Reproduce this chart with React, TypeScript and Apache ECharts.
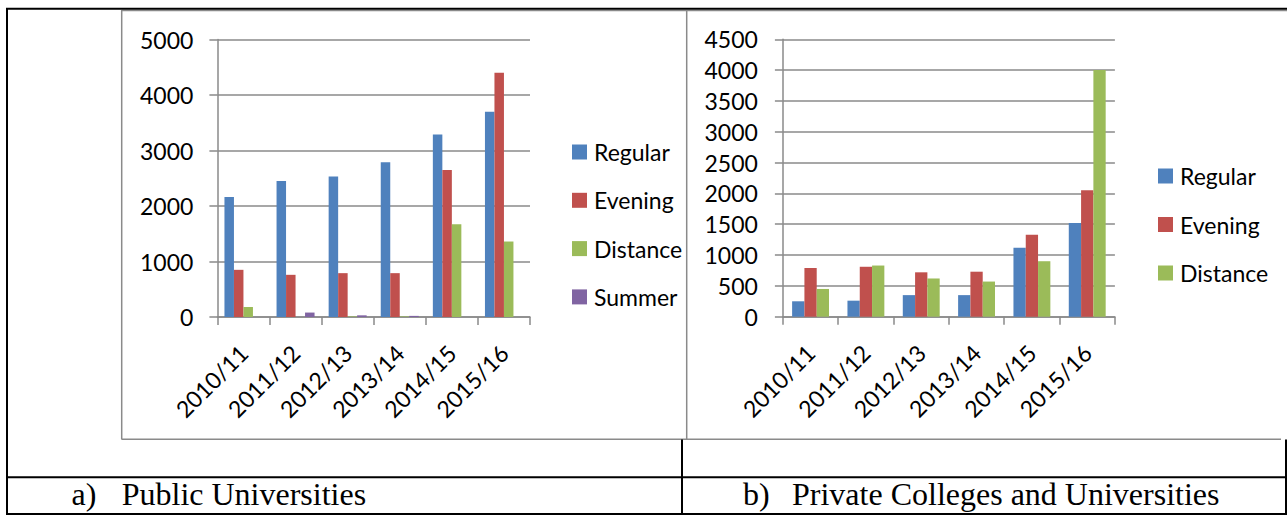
import React, { useEffect, useRef } from 'react';
import * as echarts from 'echarts';

const categories = ['2010/11', '2011/12', '2012/13', '2013/14', '2014/15', '2015/16'];

const publicRegular = [2160, 2450, 2530, 2790, 3290, 3700];
const publicEvening = [850, 760, 790, 790, 2650, 4400];
const publicDistance = [180, 0, 10, 10, 1670, 1360];
const publicSummer = [0, 80, 30, 20, 0, 0];

const privateRegular = [250, 260, 350, 350, 1120, 1520];
const privateEvening = [790, 810, 720, 730, 1330, 2050];
const privateDistance = [450, 830, 620, 570, 900, 4000];

const publicYMax = 5000;
const publicYStep = 1000;
const privateYMax = 4500;
const privateYStep = 500;

const publicLegend = ['Regular', 'Evening', 'Distance', 'Summer'];
const privateLegend = ['Regular', 'Evening', 'Distance'];

const captionA = 'Public Universities';
const captionB = 'Private Colleges and Universities';

const COLORS: Record<string, string> = {
  Regular: '#4F81BD',
  Evening: '#C0504D',
  Distance: '#9BBB59',
  Summer: '#8064A2',
};

const FONT = 'Lato, "Open Sans", sans-serif';
const SERIF = '"Liberation Serif", "DejaVu Serif", serif';
const GRAY = '#8a8a8a';
const BLACK = '#000';

function makeXAxis(gridIndex: number) {
  return {
    type: 'category',
    gridIndex,
    data: categories,
    boundaryGap: true,
    axisLine: { show: true, lineStyle: { color: GRAY, width: 1.5 } },
    axisTick: { show: true, interval: 0, alignWithLabel: false, length: 8, lineStyle: { color: GRAY, width: 1.5 } },
    axisLabel: {
      interval: 0,
      rotate: 45,
      margin: 32,
      fontSize: 23,
      fontFamily: FONT,
      color: BLACK,
    },
    splitLine: { show: false },
  };
}

function makeYAxis(gridIndex: number, max: number, step: number, margin: number) {
  return {
    type: 'value',
    gridIndex,
    min: 0,
    max,
    interval: step,
    axisLine: { show: true, lineStyle: { color: GRAY, width: 1.5 } },
    axisTick: { show: true, length: 8, lineStyle: { color: GRAY, width: 1.5 } },
    axisLabel: {
      margin,
      fontSize: 23,
      fontFamily: FONT,
      color: BLACK,
      formatter: (v: number) => String(v),
    },
    splitLine: { show: true, lineStyle: { color: GRAY, width: 1.5 } },
  };
}

function bar(name: string, data: number[], idx: number, width: number) {
  return {
    type: 'bar',
    name,
    data,
    xAxisIndex: idx,
    yAxisIndex: idx,
    barWidth: width,
    barGap: '0%',
    itemStyle: { color: COLORS[name] },
    emphasis: { disabled: true },
  };
}

function hLine(x1: number, x2: number, y: number, color: string, w: number) {
  return { type: 'line', silent: true, shape: { x1, y1: y, x2, y2: y }, style: { stroke: color, lineWidth: w } };
}
function vLine(x: number, y1: number, y2: number, color: string, w: number) {
  return { type: 'line', silent: true, shape: { x1: x, y1, x2: x, y2 }, style: { stroke: color, lineWidth: w } };
}
function caption(text: string, x: number) {
  return {
    type: 'text',
    silent: true,
    style: { text, x, y: 494, fontSize: 32, fontFamily: SERIF, fill: BLACK, verticalAlign: 'middle', textVerticalAlign: 'middle' },
  };
}

export default function App() {
  const ref = useRef<HTMLDivElement>(null);

  useEffect(() => {
    if (!ref.current) return;
    const chart = echarts.init(ref.current, undefined, { renderer: 'svg' });
    const legendText = { fontSize: 23, fontFamily: FONT, color: BLACK, lineHeight: 24, padding: [0, 0, 0, 2] };
    chart.setOption({
      animation: false,
      backgroundColor: '#fff',
      grid: [
        { left: 217.4, top: 39.5, width: 312.6, height: 277.5, containLabel: false },
        { left: 782.9, top: 39.3, width: 332, height: 277.4, containLabel: false },
      ],
      xAxis: [makeXAxis(0), makeXAxis(1)],
      yAxis: [
        makeYAxis(0, publicYMax, publicYStep, 24),
        makeYAxis(1, privateYMax, privateYStep, 25),
      ],
      legend: [
        {
          data: publicLegend,
          orient: 'vertical',
          left: 572,
          top: 140,
          padding: 0,
          itemWidth: 15,
          itemHeight: 15,
          itemGap: 24.3,
          icon: 'rect',
          textStyle: legendText,
          selectedMode: false,
        },
        {
          data: privateLegend,
          orient: 'vertical',
          left: 1158,
          top: 164,
          padding: 0,
          itemWidth: 15,
          itemHeight: 15,
          itemGap: 24.5,
          icon: 'rect',
          textStyle: legendText,
          selectedMode: false,
        },
      ],
      series: [
        bar('Regular', publicRegular, 0, 9.5),
        bar('Evening', publicEvening, 0, 9.5),
        bar('Distance', publicDistance, 0, 9.5),
        bar('Summer', publicSummer, 0, 9.5),
        bar('Regular', privateRegular, 1, 12.3),
        bar('Evening', privateEvening, 1, 12.3),
        bar('Distance', privateDistance, 1, 12.3),
      ],
      graphic: [
        // chart frames (gray)
        hLine(121.7, 1287, 10.6, GRAY, 1.5),
        vLine(121.7, 10, 439.5, GRAY, 1.5),
        vLine(686.7, 10, 439.5, GRAY, 1.5),
        hLine(121.7, 1281, 439.3, GRAY, 1.5),
        // table lines (black)
        hLine(6, 1287, 8.7, BLACK, 2),
        vLine(7, 8, 515, BLACK, 2),
        hLine(6, 1287, 477.3, BLACK, 2),
        hLine(6, 1287, 514, BLACK, 2),
        vLine(682, 439.5, 515, BLACK, 2),
        vLine(1286, 439.5, 515, BLACK, 2),
        // captions
        caption('a)', 71.5),
        caption(captionA, 121.7),
        caption('b)', 743),
        caption(captionB, 792),
      ],
    });
    return () => chart.dispose();
  }, []);

  return (
    <div
      ref={ref}
      style={{ position: 'absolute', left: 0, top: 0, width: 1287, height: 515, background: '#fff' }}
    />
  );
}
